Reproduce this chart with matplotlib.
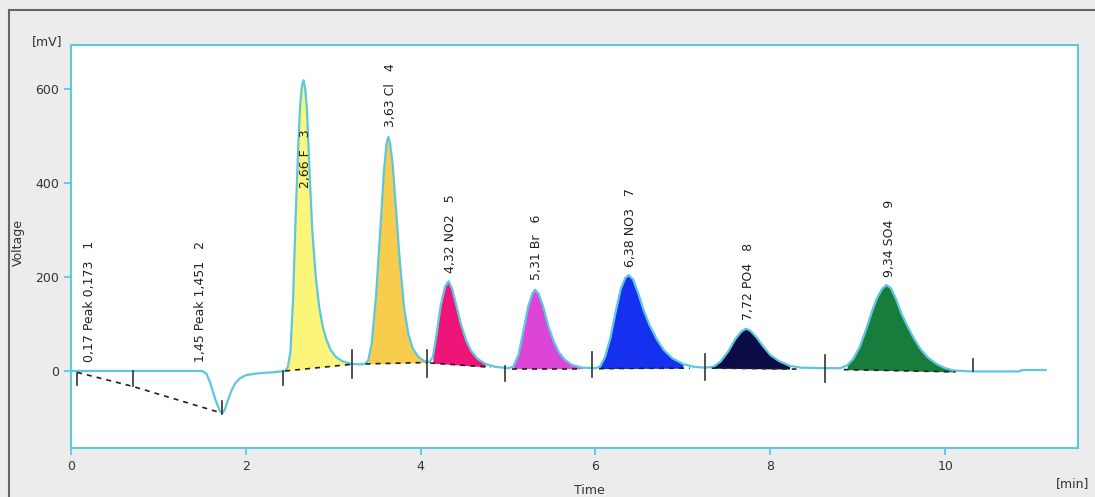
import numpy as np
import matplotlib
matplotlib.use('Agg')
import matplotlib.pyplot as plt
from matplotlib.lines import Line2D

# detector trace: time [min], voltage [mV]
trace_time = [0.00, 1.50, 1.55, 1.59, 1.65, 1.70, 1.73, 1.76, 1.80, 1.84, 1.88, 1.93, 2.00, 2.10, 2.20, 2.30, 2.40, 2.45,
              2.48, 2.51, 2.54, 2.57, 2.60, 2.62, 2.64, 2.66, 2.68, 2.70, 2.73, 2.76, 2.80, 2.84, 2.88, 2.92, 2.97, 3.03, 3.10, 3.20, 3.30, 3.36,
              3.40, 3.44, 3.49, 3.54, 3.58, 3.61, 3.63, 3.65, 3.68, 3.71, 3.76, 3.81, 3.86, 3.91, 3.97, 4.04, 4.10,
              4.14, 4.18, 4.23, 4.28, 4.32, 4.36, 4.40, 4.46, 4.52, 4.58, 4.65, 4.74, 4.85, 5.00,
              5.06, 5.12, 5.17, 5.23, 5.28, 5.31, 5.35, 5.40, 5.46, 5.52, 5.58, 5.65, 5.73, 5.85, 6.00,
              6.05, 6.11, 6.17, 6.23, 6.29, 6.34, 6.38, 6.43, 6.49, 6.55, 6.62, 6.70, 6.78, 6.88, 7.00, 7.12, 7.25,
              7.35, 7.43, 7.52, 7.60, 7.67, 7.72, 7.77, 7.84, 7.92, 8.00, 8.10, 8.22, 8.35, 8.60, 8.80,
              8.88, 8.95, 9.02, 9.09, 9.16, 9.22, 9.28, 9.33, 9.38, 9.44, 9.50, 9.57, 9.64, 9.72, 9.80, 9.90, 10.00, 10.10,
              10.30, 10.85, 10.88, 11.15]
trace_mv = [0, 0, -6, -24, -60, -84, -90, -82, -60, -40, -26, -16, -9, -6, -4, -3, -1, 0,
            8, 40, 150, 330, 480, 560, 605, 619, 600, 555, 420, 300, 200, 135, 95, 68, 45, 30, 21, 15, 14, 15,
            22, 58, 160, 305, 425, 485, 498, 485, 440, 365, 238, 135, 78, 48, 31, 21, 19,
            30, 75, 140, 180, 191, 175, 145, 100, 65, 42, 26, 15, 9, 6,
            9, 35, 80, 137, 166, 173, 164, 138, 96, 64, 40, 24, 13, 7, 6,
            9, 30, 70, 125, 175, 198, 204, 195, 165, 130, 97, 68, 45, 27, 15, 9, 7,
            9, 20, 42, 68, 84, 90, 86, 72, 52, 34, 21, 11, 7, 6, 6,
            12, 26, 50, 85, 125, 155, 175, 183, 176, 152, 122, 95, 70, 46, 29, 15, 6, 1,
            -1, -1, 2, 2]

# peak labels
label_text = ['0,17 Peak 0,173   1', '1,45 Peak 1,451   2', '2,66 F   3', '3,63 Cl   4', '4,32 NO2   5',
              '5,31 Br   6', '6,38 NO3   7', '7,72 PO4   8', '9,34 SO4   9']
label_time = [0.21, 1.48, 2.68, 3.66, 4.34, 5.33, 6.40, 7.75, 9.36]
label_mv = [20, 20, 389, 519, 208, 193, 222, 108, 200]

# integrated peaks: baseline start/end and fill colour
fill_start = [2.45, 3.37, 4.11, 5.05, 6.04, 7.33, 8.84]
fill_end = [3.20, 4.08, 4.80, 5.85, 7.08, 8.30, 10.12]
base_start = [0, 15, 17, 5, 5, 6, 3]
base_end = [14, 18, 8, 5, 6, 4, -2]
fill_color = ['#fbf57a', '#f8cc4c', '#ee1478', '#dd45d8', '#1530ef', '#0b0b45', '#177c3c']

# baseline of the two small peaks at the start
neg_base_time = [0.07, 0.71, 1.73]
neg_base_mv = [-3, -33, -90]

# integration marks
mark_time = [0.07, 0.71, 1.73, 2.43, 3.21, 4.07, 4.97, 5.96, 7.25, 8.63, 10.32]
mark_lo = [-30, -33, -92, -30, -15, -12, -21, -12, -19, -23, -1]
mark_hi = [-4, 1, -64, 1, 45, 45, 10, 41, 36, 33, 26]

cyan = '#5cc7e0'
fig = plt.figure(figsize=(10.95, 4.97), dpi=100, facecolor='#ececec')
ax = fig.add_axes([71 / 1095, 1 - 448 / 497, 1007 / 1095, 403 / 497])
ax.set_facecolor('white')

t = np.array(trace_time)
v = np.array(trace_mv)
for i in range(len(fill_start)):
    m = (t >= fill_start[i]) & (t <= fill_end[i])
    tt = t[m]
    vv = v[m]
    bb = np.interp(tt, [fill_start[i], fill_end[i]], [base_start[i], base_end[i]])
    ax.fill_between(tt, vv, bb, color=fill_color[i], lw=0, zorder=2)
    ax.plot([fill_start[i], fill_end[i]], [base_start[i], base_end[i]], color='#222222',
            ls=(0, (3, 3)), lw=1.2, zorder=4)

ax.plot(neg_base_time, neg_base_mv, color='#222222', ls=(0, (3, 3)), lw=1.2, zorder=4)
ax.plot(t, v, color=cyan, lw=1.6, zorder=3)

for i in range(len(mark_time)):
    ax.plot([mark_time[i], mark_time[i]], [mark_lo[i], mark_hi[i]], color='#333333', lw=1.2, zorder=5)

for i in range(len(label_text)):
    ax.text(label_time[i], label_mv[i], label_text[i], rotation=90, ha='center', va='bottom',
            fontsize=9, color='#222222', zorder=6)

ax.set_xlim(0, 11.52)
ax.set_ylim(-164, 694)
ax.set_xticks([0, 2, 4, 6, 8, 10])
ax.set_yticks([0, 200, 400, 600])
for s in ax.spines.values():
    s.set_color(cyan)
    s.set_linewidth(1.5)
ax.tick_params(colors=cyan, labelcolor='#333333', labelsize=9, length=5, width=1.3)
ax.tick_params(axis='x', pad=4)

fig.text(47 / 1095, 1 - 42 / 497, '[mV]', ha='center', va='center', fontsize=9, color='#333333')
fig.text(18 / 1095, 1 - 243 / 497, 'Voltage', ha='center', va='center', rotation=90, fontsize=9, color='#333333')
fig.text(589 / 1095, 1 - 490 / 497, 'Time', ha='center', va='center', fontsize=9, color='#333333')
fig.text(1073 / 1095, 1 - 484 / 497, '[min]', ha='center', va='center', fontsize=9, color='#333333')

fig.add_artist(Line2D([9 / 1095, 9 / 1095], [0, 1 - 10 / 497], transform=fig.transFigure, color='#666666', lw=1.5))
fig.add_artist(Line2D([9 / 1095, 1], [1 - 10 / 497, 1 - 10 / 497], transform=fig.transFigure, color='#666666', lw=1.5))

fig.savefig('out.png', dpi=100, facecolor=fig.get_facecolor())
